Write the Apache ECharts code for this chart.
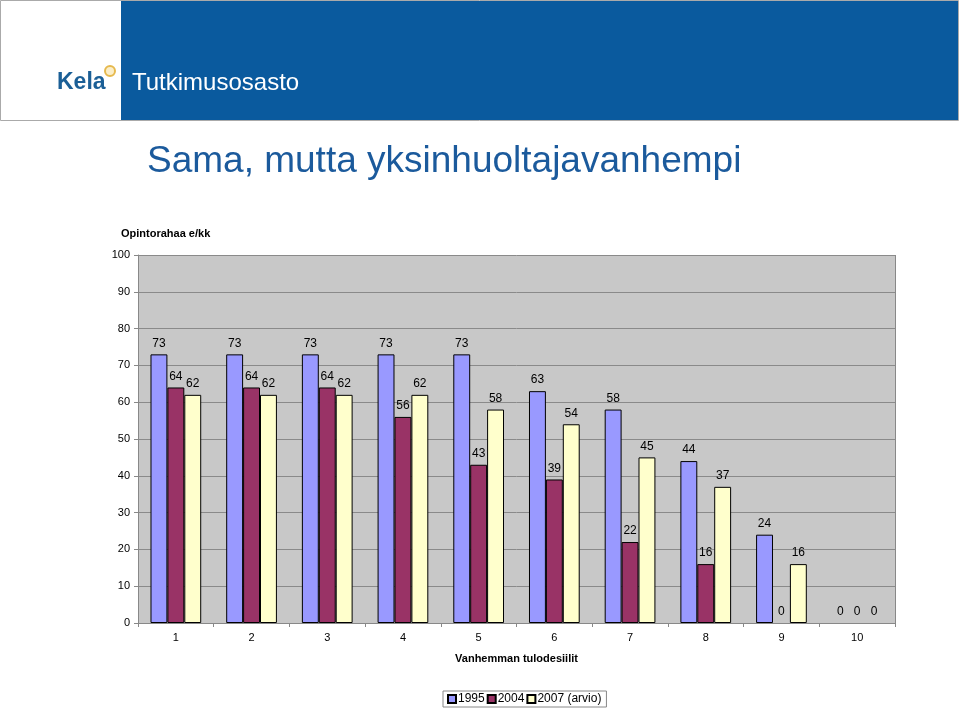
<!DOCTYPE html>
<html>
<head>
<meta charset="utf-8">
<script src="https://cdn.jsdelivr.net/npm/echarts@6/dist/echarts.min.js"></script>
<style>
  html, body { margin: 0; padding: 0; background: #fff; }
  #chart { width: 960px; height: 708px; }
</style>
</head>
<body>
<div id="chart"></div>
<script>
// data
var deciles = ['1', '2', '3', '4', '5', '6', '7', '8', '9', '10'];
var s1995 = [73, 73, 73, 73, 73, 63, 58, 44, 24, 0];
var s2004 = [64, 64, 64, 56, 43, 39, 22, 16, 0, 0];
var s2007 = [62, 62, 62, 62, 58, 54, 45, 37, 16, 0];
var seriesNames = ['1995', '2004', '2007 (arvio)'];
var seriesColors = ['#9999ff', '#993366', '#ffffcc'];

var myChart = echarts.init(document.getElementById('chart'));

function makeSeries(name, data, color) {
    return {
        name: name,
        type: 'bar',
        // zero bars have no visible outline in the original
        data: data.map(function (v) {
            return v === 0 ? { value: v, itemStyle: { borderWidth: 0 } } : v;
        }),
        barGap: '0%',
        barCategoryGap: '33%',
        itemStyle: { color: color, borderColor: '#000', borderWidth: 1 },
        label: {
            show: true,
            position: 'top',
            distance: 5,
            color: '#000',
            fontSize: 12,
            fontFamily: 'Liberation Sans, Arial'
        }
    };
}

var option = {
    animation: false,
    textStyle: { fontFamily: 'Liberation Sans, Arial' },
    graphic: [
        // header
        { type: 'rect', shape: { x: 0.5, y: 0.5, width: 958, height: 120 },
          style: { fill: '#fff', stroke: '#aaa', lineWidth: 1 } },
        { type: 'rect', shape: { x: 121, y: 1, width: 837, height: 119 },
          style: { fill: '#0a5a9e' } },
        { type: 'text', left: 132, top: 71,
          style: { text: 'Tutkimusosasto', fill: '#fff', fontSize: 24, fontFamily: 'Liberation Sans, Arial' } },
        { type: 'text', left: 57, top: 71,
          style: { text: 'Kela', fill: '#1b5f96', fontSize: 23, fontWeight: 'bold', fontFamily: 'Liberation Sans, Arial' } },
        { type: 'circle', shape: { cx: 110, cy: 71, r: 5 },
          style: { fill: '#fbeec8', stroke: '#e6b94e', lineWidth: 2 } },
        // title
        { type: 'text', left: 147, top: 143,
          style: { text: 'Sama, mutta yksinhuoltajavanhempi', fill: '#1b5a9c', fontSize: 37, fontFamily: 'Liberation Sans, Arial' } },
        // y axis caption
        { type: 'text', left: 121, top: 228,
          style: { text: 'Opintorahaa e/kk', fill: '#000', fontSize: 11, fontWeight: 'bold', fontFamily: 'Liberation Sans, Arial' } },
        // right edge of plot
        { type: 'line', shape: { x1: 895.5, y1: 255, x2: 895.5, y2: 623 },
          style: { stroke: '#888', lineWidth: 1 } }
    ],
    legend: {
        bottom: 1,
        left: 443,
        data: seriesNames,
        itemWidth: 8,
        itemHeight: 8,
        itemGap: 2,
        padding: [2, 5, 2, 4],
        borderColor: '#888',
        borderWidth: 1,
        borderRadius: 0,
        backgroundColor: '#fff',
        icon: 'rect',
        textStyle: { fontSize: 12, color: '#000', padding: [0, 0, 0, -3] }
    },
    grid: {
        left: 138,
        right: 65,
        top: 255,
        bottom: 85,
        show: true,
        backgroundColor: '#c8c8c8',
        borderWidth: 0
    },
    xAxis: {
        type: 'category',
        data: deciles,
        name: 'Vanhemman tulodesiilit',
        nameLocation: 'middle',
        nameGap: 30,
        nameTextStyle: { fontSize: 11, fontWeight: 'bold', color: '#000' },
        axisLine: { lineStyle: { color: '#888' } },
        axisTick: { show: true, alignWithLabel: false, length: 4, lineStyle: { color: '#888' } },
        axisLabel: { color: '#000', fontSize: 11, margin: 9 }
    },
    yAxis: {
        type: 'value',
        min: 0,
        max: 100,
        interval: 10,
        axisLine: { show: true, lineStyle: { color: '#888' } },
        axisTick: { show: true, length: 4, lineStyle: { color: '#888' } },
        axisLabel: { color: '#000', fontSize: 11, margin: 8 },
        splitLine: { lineStyle: { color: '#8a8a8a', width: 1 } }
    },
    series: [
        makeSeries(seriesNames[0], s1995, seriesColors[0]),
        makeSeries(seriesNames[1], s2004, seriesColors[1]),
        makeSeries(seriesNames[2], s2007, seriesColors[2])
    ]
};

myChart.setOption(option);
</script>
</body>
</html>
